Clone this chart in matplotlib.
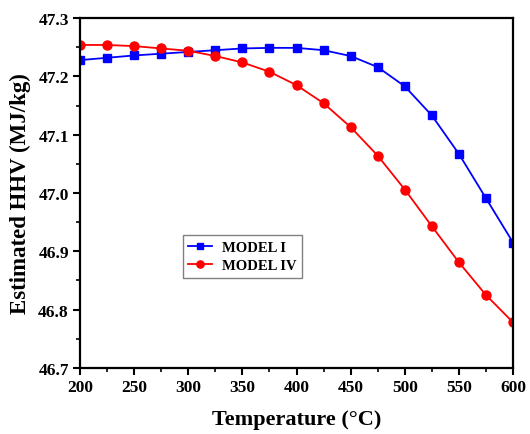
import matplotlib
matplotlib.use('Agg')
import matplotlib.pyplot as plt
from matplotlib.ticker import MultipleLocator

temperature = [200, 225, 250, 275, 300, 325, 350, 375, 400, 425, 450, 475, 500, 525, 550, 575, 600]
model_1 = [47.228, 47.232, 47.236, 47.239, 47.242, 47.245, 47.248, 47.249, 47.249, 47.245,
           47.235, 47.216, 47.183, 47.133, 47.067, 46.991, 46.915]
model_4 = [47.254, 47.254, 47.252, 47.248, 47.244, 47.235, 47.224, 47.208, 47.185, 47.154,
           47.113, 47.064, 47.006, 46.943, 46.881, 46.825, 46.778]

plt.rcParams['font.family'] = 'Liberation Serif'
plt.rcParams['font.weight'] = 'bold'

fig = plt.figure(figsize=(5.3, 4.35), dpi=100)
ax = fig.add_axes([0.151, 0.152, 0.817, 0.804])

ax.plot(temperature, model_1, '-s', color='#0000ff', markersize=6, linewidth=1.3, label='MODEL I')
ax.plot(temperature, model_4, '-o', color='#ff0000', markersize=6.5, linewidth=1.3, label='MODEL IV')

ax.set_xlim(200, 600)
ax.set_ylim(46.7, 47.3)
ax.xaxis.set_major_locator(MultipleLocator(50))
ax.xaxis.set_minor_locator(MultipleLocator(25))
ax.yaxis.set_major_locator(MultipleLocator(0.1))
ax.yaxis.set_minor_locator(MultipleLocator(0.05))
ax.yaxis.set_major_formatter(matplotlib.ticker.FormatStrFormatter('%.1f'))

ax.tick_params(which='major', direction='out', length=5, width=1.5, labelsize=12.5, pad=3)
ax.tick_params(which='minor', direction='out', length=3, width=1.2)
for s in ax.spines.values():
    s.set_linewidth(1.6)

ax.set_xlabel('Temperature (°C)', fontsize=16, fontweight='bold', labelpad=10)
ax.set_ylabel('Estimated HHV (MJ/kg)', fontsize=16.5, fontweight='bold', labelpad=5)

leg = ax.legend(loc='upper left', bbox_to_anchor=(0.22, 0.4), fancybox=False, fontsize=10.5,
                edgecolor='gray', framealpha=1, handlelength=1.6, borderpad=0.4, labelspacing=0.3,
                handletextpad=0.7, markerscale=0.8)
leg.get_frame().set_linewidth(1.0)

plt.savefig('out.png', dpi=100)
